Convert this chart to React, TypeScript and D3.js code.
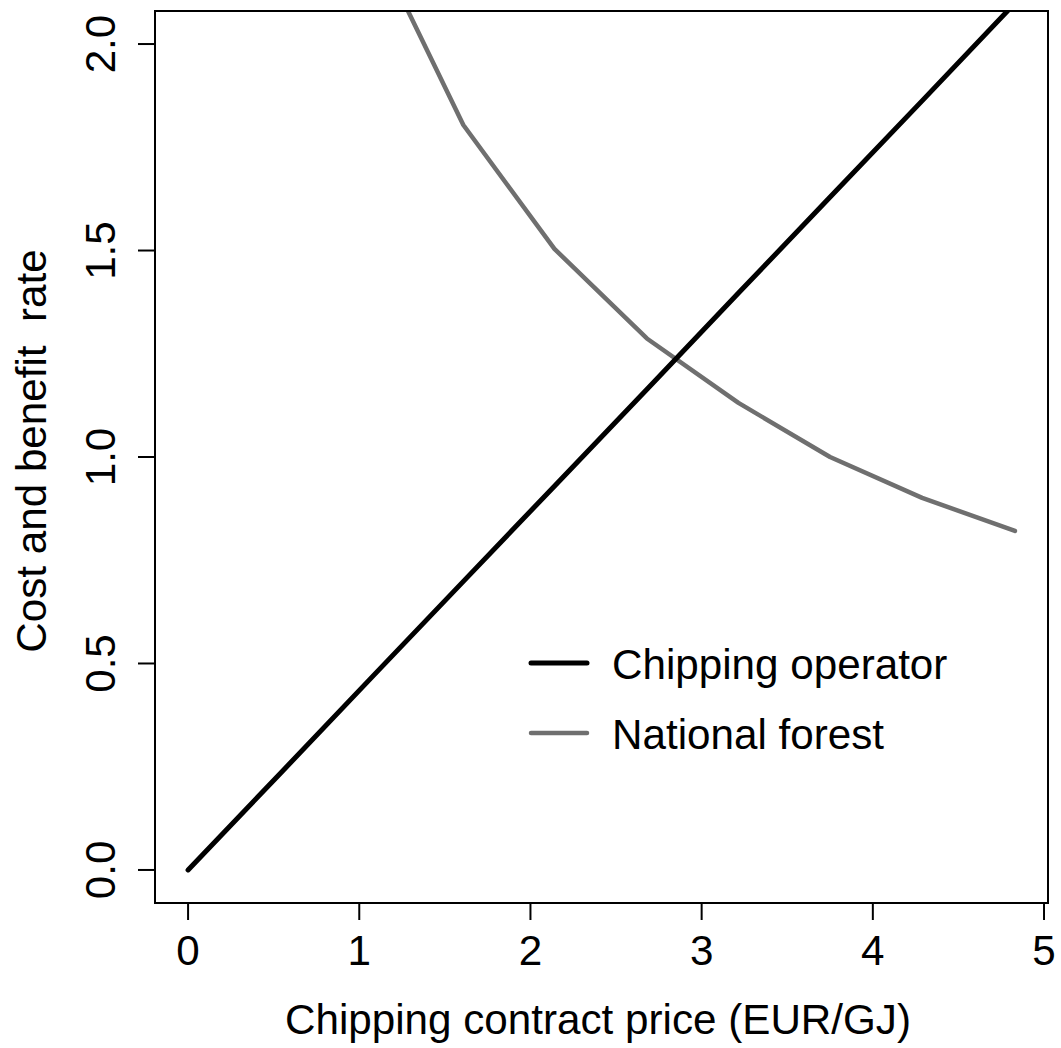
import React from "react";
import * as d3 from "d3";

const priceX: number[] = [0, 0.537, 1.074, 1.611, 2.148, 2.685, 3.222, 3.759, 4.296, 4.83];
const operatorY: number[] = [0, 0.233, 0.467, 0.7, 0.933, 1.166, 1.4, 1.633, 1.866, 2.099];
const forestX: number[] = [1.074, 1.608, 2.14, 2.68, 3.215, 3.75, 4.288, 4.83];
const forestY: number[] = [2.26, 1.804, 1.504, 1.287, 1.131, 1.0, 0.901, 0.821];
const xTicks: number[] = [0, 1, 2, 3, 4, 5];
const yTicks: number[] = [0, 0.5, 1.0, 1.5, 2.0];
const yLim: number[] = [0, 2];
const seriesNames: string[] = ["Chipping operator", "National forest"];
const seriesColors: string[] = ["#000000", "#6f6f6f"];

const W = 1061;
const H = 1048;
const box = { left: 155, right: 1048, top: 11, bottom: 903 };
const FONT = "'Liberation Sans', Arial, Helvetica, sans-serif";
const FS = 42.2;

export default function App() {
  const xMax = d3.max(priceX) as number;
  const xPad = 0.04 * (xMax - 0);
  const yPad = 0.04 * (yLim[1] - yLim[0]);
  const x = d3.scaleLinear().domain([0 - xPad, xMax + xPad]).range([box.left, box.right]);
  const y = d3.scaleLinear().domain([yLim[0] - yPad, yLim[1] + yPad]).range([box.bottom, box.top]);

  const line = d3
    .line<[number, number]>()
    .x((d) => x(d[0]))
    .y((d) => y(d[1]));

  const opPath = line(priceX.map((v, i) => [v, operatorY[i]] as [number, number])) || "";
  const forPath = line(forestX.map((v, i) => [v, forestY[i]] as [number, number])) || "";

  const tickLen = 17;
  const legendX1 = 531;
  const legendX2 = 587;
  const legendY = [663, 733];
  const widths = [5, 4.5];

  return (
    <svg
      width={W}
      height={H}
      style={{ position: "absolute", left: 0, top: 0, background: "#fff" }}
      fontFamily={FONT}
    >
      <defs>
        <clipPath id="plotclip">
          <rect x={box.left} y={box.top} width={box.right - box.left} height={box.bottom - box.top} />
        </clipPath>
      </defs>
      <rect x={0} y={0} width={W} height={H} fill="#fff" />
      <g clipPath="url(#plotclip)" fill="none" strokeLinecap="round" strokeLinejoin="round">
        <path d={forPath} stroke={seriesColors[1]} strokeWidth={widths[1]} />
        <path d={opPath} stroke={seriesColors[0]} strokeWidth={widths[0]} />
      </g>
      <rect
        x={box.left}
        y={box.top}
        width={box.right - box.left}
        height={box.bottom - box.top}
        fill="none"
        stroke="#000"
        strokeWidth={2}
      />
      {/* x axis */}
      {xTicks.map((t) => (
        <g key={"xt" + t}>
          <line x1={x(t)} x2={x(t)} y1={box.bottom} y2={box.bottom + tickLen} stroke="#000" strokeWidth={2} />
          <text x={x(t)} y={965} fontSize={FS} textAnchor="middle" fill="#000">
            {String(t)}
          </text>
        </g>
      ))}
      {/* y axis */}
      {yTicks.map((t) => (
        <g key={"yt" + t}>
          <line x1={box.left - tickLen} x2={box.left} y1={y(t)} y2={y(t)} stroke="#000" strokeWidth={2} />
          <text
            transform={`translate(115,${y(t)}) rotate(-90)`}
            fontSize={FS}
            textAnchor="middle"
            fill="#000"
          >
            {t.toFixed(1)}
          </text>
        </g>
      ))}
      <text x={598} y={1034} fontSize={FS} textAnchor="middle" fill="#000">
        Chipping contract price (EUR/GJ)
      </text>
      <text
        transform={`translate(46,451) rotate(-90)`}
        fontSize={FS}
        textAnchor="middle"
        fill="#000"
        style={{ whiteSpace: "pre" }}
      >
        {"Cost and benefit  rate"}
      </text>
      {/* legend */}
      {seriesNames.map((n, i) => (
        <g key={n}>
          <line
            x1={legendX1}
            x2={legendX2}
            y1={legendY[i]}
            y2={legendY[i]}
            stroke={seriesColors[i]}
            strokeWidth={widths[i]}
            strokeLinecap="round"
          />
          <text x={612} y={legendY[i] + 16} fontSize={FS} fill="#000">
            {n}
          </text>
        </g>
      ))}
    </svg>
  );
}
